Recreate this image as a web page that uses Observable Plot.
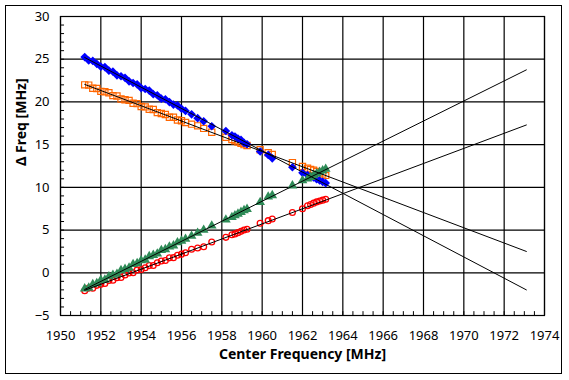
<!DOCTYPE html>
<html><head><meta charset="utf-8">
<script src="https://cdn.jsdelivr.net/npm/d3@7"></script>
<script src="https://cdn.jsdelivr.net/npm/@observablehq/plot@0.6"></script>
<style>
body{margin:0;background:#fff;}
#wrap{position:relative;width:569px;height:380px;background:#fff;}
#border{position:absolute;left:5px;top:5px;width:557px;height:369px;border:1px solid #000;box-sizing:border-box;pointer-events:none;}
</style></head>
<body><div id="wrap"><div id="border"></div></div>
<script>
// Center frequency (MHz), shared by all four series
const freq = [1951.2,1951.4,1951.6,1951.8,1952.0,1952.2,1952.4,1952.6,1952.8,1953.0,1953.2,1953.4,1953.6,1953.8,1954.0,1954.2,1954.4,1954.6,1954.8,1955.0,1955.2,1955.4,1955.6,1955.8,1956.0,
  1956.2,1956.5,1956.8,1957.1,1957.5,1958.2,1958.5,1958.65,1958.8,1958.95,1959.1,1959.25,1959.9,1960.3,1960.5,1961.5,1962.0,1962.25,1962.4,1962.55,1962.7,1962.85,1963.0,1963.15];
// Δ Freq (MHz) per series
const deltaBlue = [25.25,24.85,24.80,24.46,24.13,24.08,23.66,23.54,23.11,23.01,22.82,22.41,22.22,22.06,21.62,21.51,21.33,20.91,20.78,20.38,20.31,19.98,19.69,19.59,19.20,
  18.95,18.55,18.10,17.74,17.15,16.60,16.10,15.95,15.70,15.55,15.20,15.05,14.20,13.80,13.40,12.35,11.70,11.45,11.25,11.15,10.95,10.80,10.65,10.50];
const deltaOrange = [22.00,21.97,21.61,21.57,21.24,21.20,21.08,20.74,20.70,20.34,20.26,20.18,19.85,19.80,19.46,19.42,19.15,19.11,18.75,18.65,18.53,18.20,18.20,17.89,17.80,
  17.60,17.40,17.20,16.90,16.45,15.86,15.60,15.45,15.30,15.15,15.00,14.90,14.40,14.05,13.85,12.90,12.45,12.25,12.10,12.00,11.85,11.70,11.55,11.40];
const deltaGreen = [-1.85,-1.77,-1.36,-1.25,-0.86,-0.84,-0.44,-0.26,-0.15,0.28,0.42,0.58,1.00,1.10,1.43,1.51,1.92,2.07,2.22,2.63,2.74,3.05,3.17,3.54,3.73,
  3.95,4.30,4.65,5.00,5.50,6.20,6.50,6.70,6.90,7.10,7.30,7.45,8.25,8.90,9.05,10.20,10.80,11.00,11.20,11.40,11.60,11.80,11.95,12.15];
const deltaRed = [-2.10,-1.79,-1.80,-1.47,-1.35,-1.25,-0.89,-0.86,-0.58,-0.56,-0.25,-0.03,0.00,0.34,0.37,0.59,0.84,0.85,1.17,1.38,1.43,1.75,1.77,2.05,2.18,
  2.35,2.75,2.90,3.05,3.60,4.15,4.45,4.55,4.70,4.85,5.00,5.10,5.80,6.10,6.30,7.05,7.50,7.85,8.00,8.15,8.30,8.40,8.50,8.60];
// Linear fit lines (end points)
const fitFreq = [1951.2, 1973.1];
const fitBlue = [25.2, -2.0];
const fitOrange = [22.05, 2.5];
const fitGreen = [-1.95, 23.75];
const fitRed = [-2.05, 17.3];
// Axis ticks
const xTicks = [1950,1952,1954,1956,1958,1960,1962,1964,1966,1968,1970,1972,1974];
const yTicks = [-5,0,5,10,15,20,25,30];
const xMinor = d3.range(1950, 1974.001, 0.5);
const yMinor = d3.range(-5, 30.001, 1);

const rows = freq.map((f, i) => ({f, b: deltaBlue[i], o: deltaOrange[i], g: deltaGreen[i], r: deltaRed[i]}));
const fitRows = fitFreq.map((f, i) => ({f, b: fitBlue[i], o: fitOrange[i], g: fitGreen[i], r: fitRed[i]}));

const plot = Plot.plot({
  width: 569, height: 380,
  marginLeft: 60, marginRight: 25, marginTop: 16, marginBottom: 65,
  style: {fontFamily: "'Noto Sans', sans-serif", fontSize: "13px", color: "#000", background: "transparent"},
  x: {domain: [1950, 1974], label: null},
  y: {domain: [-5, 30], label: null},
  marks: [
    Plot.gridX(xTicks, {stroke: "#000", strokeOpacity: 1, strokeWidth: 1.2}),
    Plot.gridY(yTicks, {stroke: "#000", strokeOpacity: 1, strokeWidth: 1.2}),
    Plot.ruleX(xMinor, {y1: -5, y2: -4.55, stroke: "#000"}),
    Plot.ruleY(yMinor, {x1: 1950, x2: 1950.2, stroke: "#000"}),
    Plot.frame({stroke: "#000", strokeWidth: 1.2}),
    Plot.axisX(xTicks, {tickSize: 0, tickPadding: 15, fontSize: 13, tickFormat: d => String(d)}),
    Plot.axisY(yTicks, {tickSize: 0, tickPadding: 11, fontSize: 13}),
    Plot.dot(rows, {x: "f", y: "o", symbol: "square", r: 3.5, stroke: "#ff6600", fill: "none", strokeWidth: 1.2}),
    Plot.dot(rows, {x: "f", y: "b", symbol: "diamond2", r: 3.9, fill: "#0000ff", stroke: "none"}),
    Plot.dot(rows, {x: "f", y: "r", symbol: "circle", r: 2.9, stroke: "#ff0000", fill: "none", strokeWidth: 1.3}),
    Plot.dot(rows, {x: "f", y: "g", symbol: "triangle", r: 3.6, fill: "#2e8b57", stroke: "none"}),
    Plot.line(fitRows, {x: "f", y: "b", stroke: "#000", strokeWidth: 1}),
    Plot.line(fitRows, {x: "f", y: "o", stroke: "#000", strokeWidth: 1}),
    Plot.line(fitRows, {x: "f", y: "g", stroke: "#000", strokeWidth: 1}),
    Plot.line(fitRows, {x: "f", y: "r", stroke: "#000", strokeWidth: 1}),
    Plot.text(["Center Frequency [MHz]"], {frameAnchor: "bottom", dy: 43, fontWeight: "bold", fontSize: 14}),
    Plot.text(["Δ Freq [MHz]"], {frameAnchor: "left", dx: -39, rotate: -90, fontWeight: "bold", fontSize: 14})
  ]
});
document.getElementById("wrap").prepend(plot);
</script>
</body></html>
